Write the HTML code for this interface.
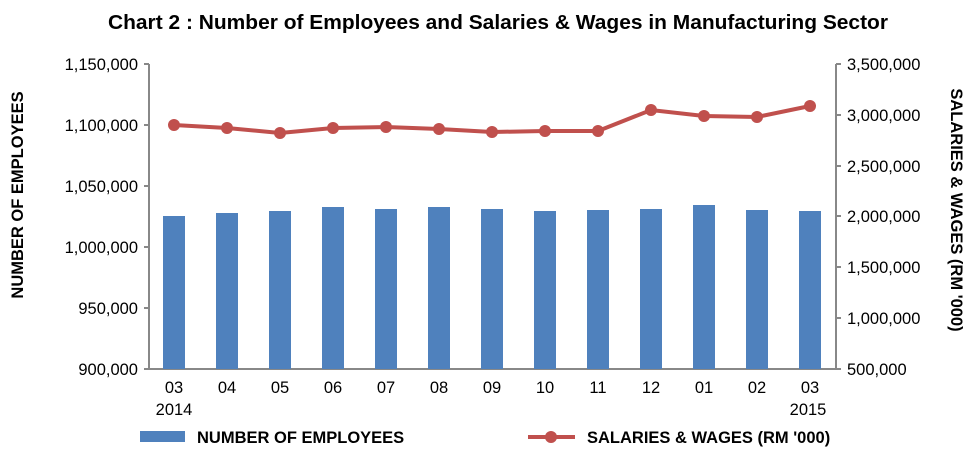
<!DOCTYPE html><html><head><style>body{margin:0;background:#fff}</style></head><body>
<svg width="975" height="458" xmlns="http://www.w3.org/2000/svg" font-family="Liberation Sans, Arial, sans-serif">
<text x="498" y="29" text-anchor="middle" font-weight="bold" font-size="20.5" textLength="780" lengthAdjust="spacingAndGlyphs">Chart 2 : Number of Employees and Salaries &amp; Wages in Manufacturing Sector</text>
<g stroke="#888" stroke-width="2">
<line x1="149" y1="64" x2="149" y2="369"/><line x1="836" y1="64" x2="836" y2="369"/><line x1="149" y1="369" x2="836" y2="369"/>
<line x1="144" y1="64" x2="149" y2="64"/><line x1="144" y1="125" x2="149" y2="125"/><line x1="144" y1="186" x2="149" y2="186"/><line x1="144" y1="247" x2="149" y2="247"/><line x1="144" y1="308" x2="149" y2="308"/><line x1="144" y1="369" x2="149" y2="369"/>
<line x1="836" y1="64" x2="841" y2="64"/><line x1="836" y1="115" x2="841" y2="115"/><line x1="836" y1="166" x2="841" y2="166"/><line x1="836" y1="216" x2="841" y2="216"/><line x1="836" y1="267" x2="841" y2="267"/><line x1="836" y1="318" x2="841" y2="318"/><line x1="836" y1="369" x2="841" y2="369"/>
</g>
<g font-size="16.5" text-anchor="end">
<text x="138" y="70">1,150,000</text><text x="138" y="131">1,100,000</text><text x="138" y="192">1,050,000</text><text x="138" y="253">1,000,000</text><text x="138" y="314">950,000</text><text x="138" y="375">900,000</text>
</g>
<g font-size="16.5" text-anchor="start">
<text x="847" y="70">3,500,000</text><text x="847" y="121">3,000,000</text><text x="847" y="172">2,500,000</text><text x="847" y="222">2,000,000</text><text x="847" y="273">1,500,000</text><text x="847" y="324">1,000,000</text><text x="847" y="375">500,000</text>
</g>
<text transform="translate(23,195) rotate(-90)" text-anchor="middle" font-weight="bold" font-size="16.5">NUMBER OF EMPLOYEES</text>
<text transform="translate(951,210) rotate(90)" text-anchor="middle" font-weight="bold" font-size="16.5">SALARIES &amp; WAGES (RM  '000)</text>
<g fill="#4f81bd">
<rect x="163" y="216" width="22" height="153"/><rect x="216" y="213" width="22" height="156"/><rect x="269" y="211" width="22" height="158"/><rect x="322" y="207" width="22" height="162"/><rect x="375" y="209" width="22" height="160"/><rect x="428" y="207" width="22" height="162"/><rect x="481" y="209" width="22" height="160"/><rect x="534" y="211" width="22" height="158"/><rect x="587" y="210" width="22" height="159"/><rect x="640" y="209" width="22" height="160"/><rect x="693" y="205" width="22" height="164"/><rect x="746" y="210" width="22" height="159"/><rect x="799" y="211" width="22" height="158"/>
</g>
<polyline fill="none" stroke="#c0504d" stroke-width="4" points="174,125 227,128 280,133 333,128 386,127 439,129 492,132 545,131 598,131 651,110 704,116 757,117 810,106"/>
<g fill="#c0504d">
<circle cx="174" cy="125" r="6"/><circle cx="227" cy="128" r="6"/><circle cx="280" cy="133" r="6"/><circle cx="333" cy="128" r="6"/><circle cx="386" cy="127" r="6"/><circle cx="439" cy="129" r="6"/><circle cx="492" cy="132" r="6"/><circle cx="545" cy="131" r="6"/><circle cx="598" cy="131" r="6"/><circle cx="651" cy="110" r="6"/><circle cx="704" cy="116" r="6"/><circle cx="757" cy="117" r="6"/><circle cx="810" cy="106" r="6"/>
</g>
<g font-size="16.5" text-anchor="middle">
<text x="174" y="393">03</text><text x="227" y="393">04</text><text x="280" y="393">05</text><text x="333" y="393">06</text><text x="386" y="393">07</text><text x="439" y="393">08</text><text x="492" y="393">09</text><text x="545" y="393">10</text><text x="598" y="393">11</text><text x="651" y="393">12</text><text x="704" y="393">01</text><text x="757" y="393">02</text><text x="810" y="393">03</text>
<text x="174" y="415">2014</text><text x="808" y="415">2015</text>
</g>
<rect x="140" y="431" width="45" height="11" fill="#4f81bd"/>
<text x="197" y="443" font-weight="bold" font-size="16.5">NUMBER OF EMPLOYEES</text>
<line x1="528" y1="437" x2="575" y2="437" stroke="#c0504d" stroke-width="4"/><circle cx="551" cy="437" r="6" fill="#c0504d"/>
<text x="587" y="443" font-weight="bold" font-size="16.5">SALARIES &amp; WAGES (RM '000)</text>
</svg>
</body></html>
